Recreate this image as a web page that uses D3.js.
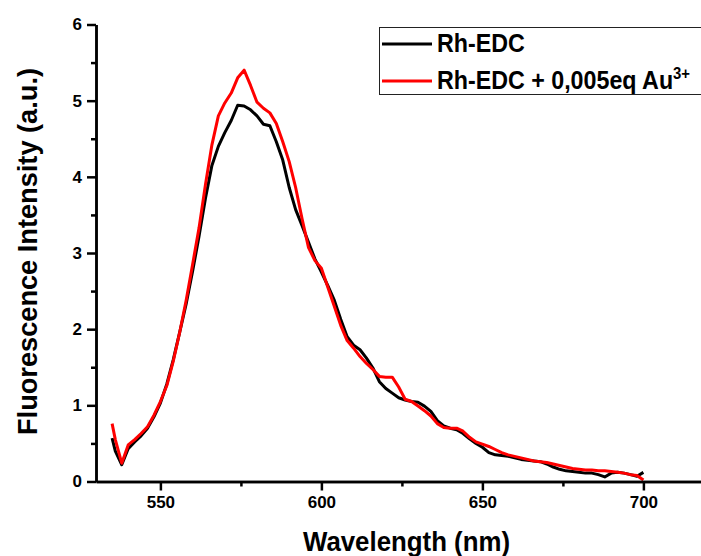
<!DOCTYPE html>
<html>
<head>
<meta charset="utf-8">
<script src="https://cdn.jsdelivr.net/npm/d3@7"></script>
<style>
  body { margin: 0; background: #fff; }
  svg text { font-family: "Liberation Sans", Arial, sans-serif; font-weight: bold; }
</style>
</head>
<body>
<div id="chartArea"></div>
<script>
// wavelengths (nm)
let wavelengths = [535, 536, 538, 540, 542, 544, 546, 548, 550, 552, 554, 556, 558, 560, 562, 564, 566, 568, 570, 572, 574, 576, 578, 580, 582, 584, 586, 588, 590, 592, 594, 596, 598, 600, 602, 604, 606, 608, 610, 612, 614, 616, 618, 620, 622, 624, 626, 628, 630, 632, 634, 636, 638, 640, 642, 644, 646, 648, 650, 652, 654, 656, 658, 660, 662, 664, 666, 668, 670, 672, 674, 676, 678, 680, 682, 684, 686, 688, 690, 692, 694, 696, 698, 700];

let rhEdc = [0.57, 0.40, 0.22, 0.43, 0.52, 0.60, 0.70, 0.85, 1.03, 1.28, 1.60, 1.96, 2.33, 2.76, 3.22, 3.72, 4.15, 4.40, 4.58, 4.74, 4.94, 4.93, 4.88, 4.80, 4.69, 4.67, 4.46, 4.22, 3.86, 3.57, 3.36, 3.14, 2.92, 2.75, 2.57, 2.38, 2.13, 1.90, 1.79, 1.73, 1.62, 1.49, 1.31, 1.22, 1.16, 1.10, 1.07, 1.05, 1.04, 0.99, 0.92, 0.80, 0.73, 0.70, 0.68, 0.63, 0.56, 0.50, 0.45, 0.38, 0.35, 0.34, 0.33, 0.31, 0.29, 0.28, 0.27, 0.26, 0.23, 0.19, 0.16, 0.14, 0.13, 0.12, 0.11, 0.11, 0.09, 0.06, 0.11, 0.12, 0.11, 0.09, 0.07, 0.12];

let rhEdcAu = [0.76, 0.55, 0.24, 0.48, 0.55, 0.63, 0.72, 0.87, 1.05, 1.26, 1.58, 1.96, 2.38, 2.85, 3.33, 3.90, 4.42, 4.80, 4.97, 5.10, 5.30, 5.40, 5.20, 4.98, 4.90, 4.84, 4.70, 4.46, 4.20, 3.86, 3.45, 3.07, 2.90, 2.80, 2.55, 2.30, 2.05, 1.85, 1.75, 1.64, 1.55, 1.47, 1.38, 1.37, 1.37, 1.24, 1.08, 1.05, 0.99, 0.93, 0.86, 0.76, 0.71, 0.70, 0.70, 0.66, 0.58, 0.52, 0.49, 0.46, 0.42, 0.38, 0.35, 0.33, 0.31, 0.29, 0.27, 0.26, 0.25, 0.23, 0.21, 0.19, 0.17, 0.16, 0.15, 0.15, 0.14, 0.14, 0.13, 0.12, 0.11, 0.09, 0.08, 0.02];

let xTicks = [550, 600, 650, 700];
let xMinor = [575, 625, 675];
let yTicks = [0, 1, 2, 3, 4, 5, 6];
let yMinor = [0.5, 1.5, 2.5, 3.5, 4.5, 5.5];

let seriesNames = ["Rh-EDC", "Rh-EDC + 0,005eq Au"];
let seriesColors = ["#000000", "#ff0000"];

let width = 701, height = 556;

let svg = d3.select('#chartArea').append('svg')
   .attr('width', width)
   .attr('height', height);

let x = d3.scaleLinear().domain([530, 720]).range([96, 707.8]);
let y = d3.scaleLinear().domain([0, 6]).range([481.5, 24.5]);

// curves
let line = d3.line()
   .x(function(d) { return x(d[0]); })
   .y(function(d) { return y(d[1]); });

let allSeries = [rhEdc, rhEdcAu];
allSeries.forEach(function(vals, i) {
   svg.append('path')
      .datum(wavelengths.map(function(w, j) { return [w, vals[j]]; }))
      .attr('d', line)
      .attr('fill', 'none')
      .attr('stroke', seriesColors[i])
      .attr('stroke-width', 3)
      .attr('stroke-linejoin', 'round');
});

// minor ticks first, then the major axes on top
svg.append('g')
   .attr('transform', `translate(0,${y(0)})`)
   .call(d3.axisBottom(x).tickValues(xMinor).tickSize(5).tickFormat(() => '').tickSizeOuter(0));
svg.append('g')
   .attr('transform', `translate(${x(530)},0)`)
   .call(d3.axisLeft(y).tickValues(yMinor).tickSize(5).tickFormat(() => '').tickSizeOuter(0));

svg.append('g')
   .attr('transform', `translate(0,${y(0)})`)
   .call(d3.axisBottom(x).tickValues(xTicks).tickSize(9).tickPadding(5).tickSizeOuter(0));

svg.append('g')
   .attr('transform', `translate(${x(530)},0)`)
   .call(d3.axisLeft(y).tickValues(yTicks).tickFormat(d3.format('d')).tickSize(9).tickPadding(5).tickSizeOuter(0));

svg.selectAll('.domain').attr('stroke', '#000').attr('stroke-width', 2.5);
svg.selectAll('.tick line').attr('stroke', '#000').attr('stroke-width', 2.5);
svg.selectAll('.tick text')
   .attr('fill', '#000')
   .style('font-size', '17px');

// axis titles
svg.append('text')
   .attr('x', 406.5)
   .attr('y', 551)
   .attr('text-anchor', 'middle')
   .attr('textLength', 207)
   .attr('lengthAdjust', 'spacingAndGlyphs')
   .style('font-size', '28px')
   .text('Wavelength (nm)');

svg.append('text')
   .attr('transform', 'translate(37,251.5) rotate(-90)')
   .attr('text-anchor', 'middle')
   .attr('textLength', 367)
   .attr('lengthAdjust', 'spacingAndGlyphs')
   .style('font-size', '28px')
   .text('Fluorescence Intensity (a.u.)');

// legend
let legend = svg.append('g');
legend.append('rect')
   .attr('x', 379.5).attr('y', 27.5)
   .attr('width', 340).attr('height', 67)
   .attr('fill', '#fff')
   .attr('stroke', '#222')
   .attr('stroke-width', 1);

let legendRows = [44, 81];
seriesNames.forEach(function(name, i) {
   legend.append('line')
      .attr('x1', 382).attr('x2', 432)
      .attr('y1', legendRows[i]).attr('y2', legendRows[i])
      .attr('stroke', seriesColors[i])
      .attr('stroke-width', 3);
   let t = legend.append('text')
      .attr('transform', `translate(437,${legendRows[i] + 8}) scale(0.93,1)`)
      .style('font-size', '25px')
      .attr('fill', '#000');
   t.append('tspan').text(name);
   if (i == 1) {
      t.append('tspan')
         .attr('dy', -10)
         .style('font-size', '16px')
         .text('3+');
   }
});
</script>
</body>
</html>
